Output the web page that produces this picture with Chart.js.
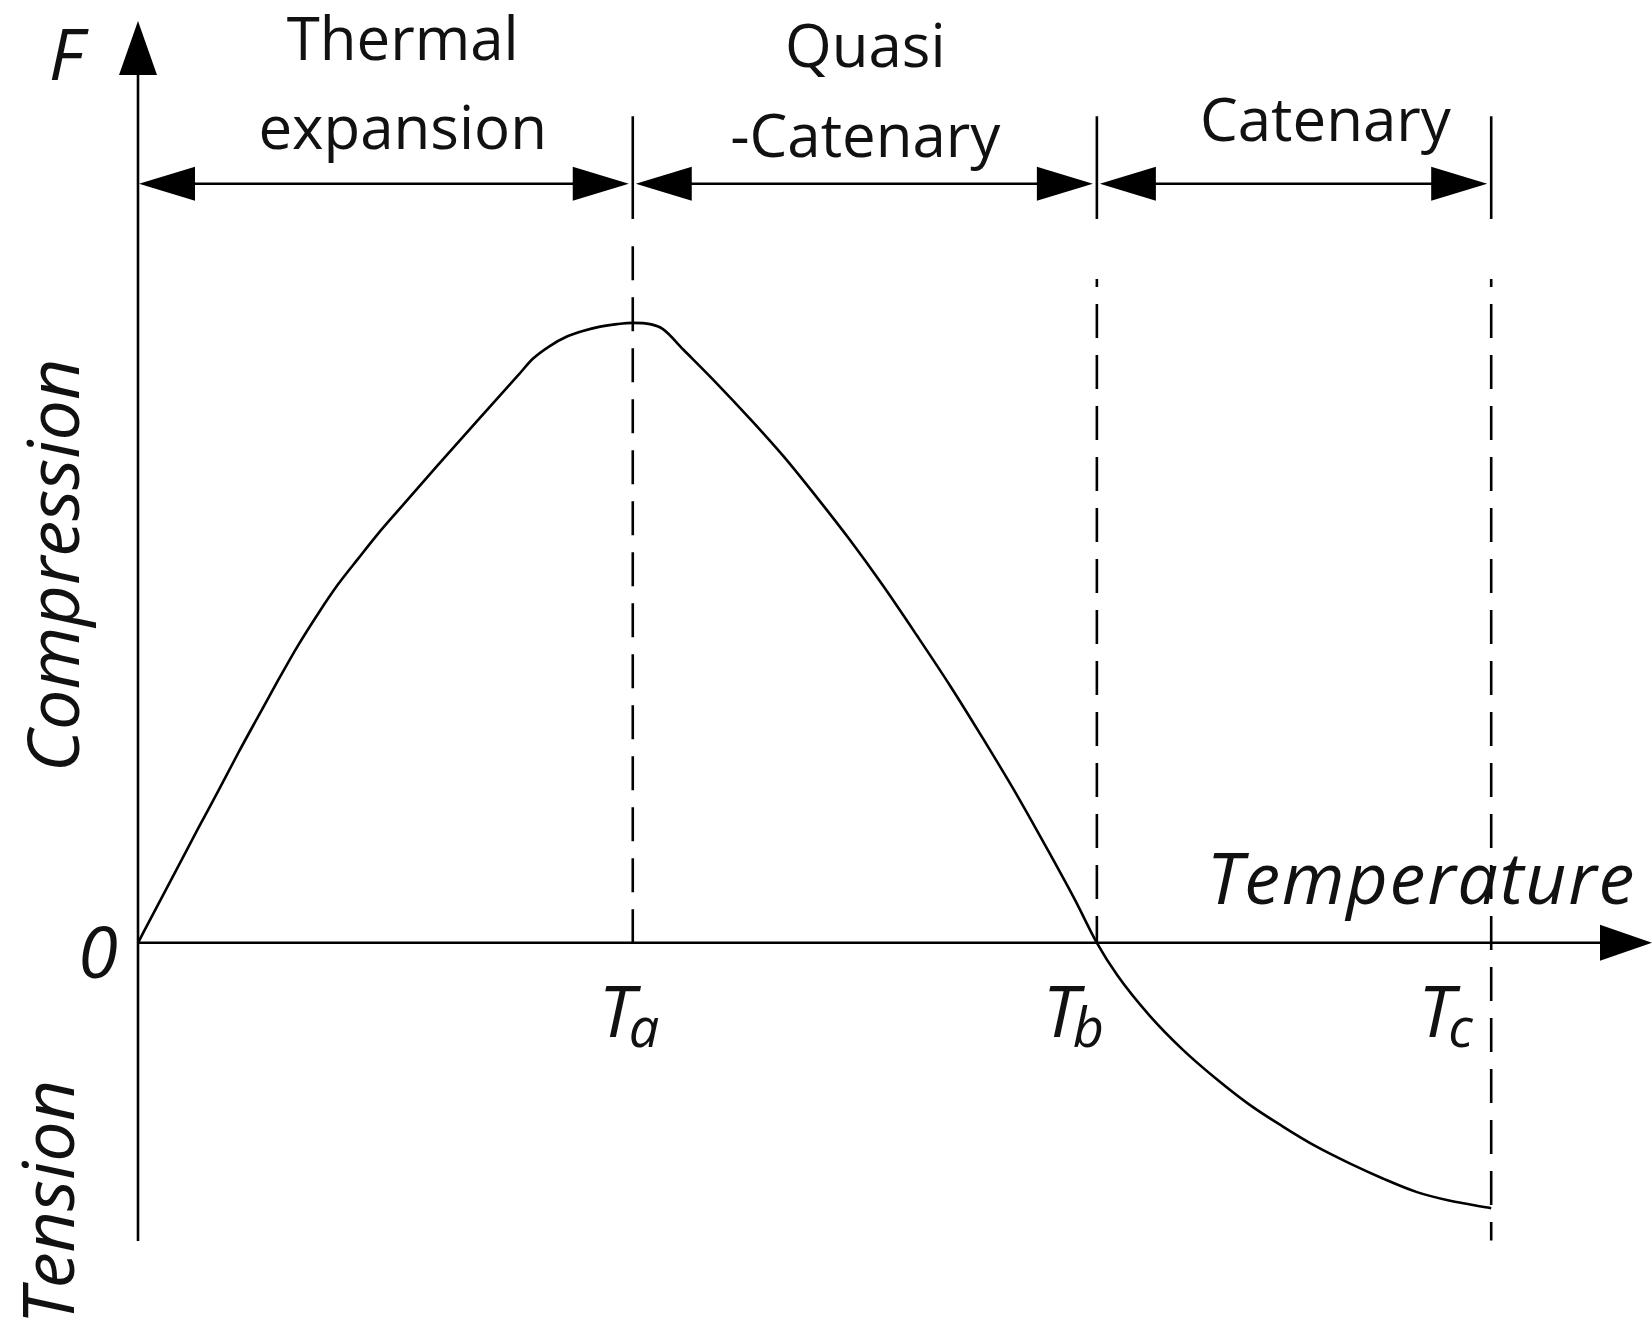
<!DOCTYPE html>
<html>
<head>
<meta charset="utf-8">
<script src="https://cdn.jsdelivr.net/npm/chart.js@4/dist/chart.umd.min.js"></script>
<style>
  html, body { margin: 0; padding: 0; background: #fff; }
  #wrap { width: 1652px; height: 1329px; position: relative; }
</style>
</head>
<body>
<div id="wrap"><canvas id="c"></canvas></div>
<script>
// ---- data (temperature units: Ta = 100, force units: peak = 100) ----
const curveT = [0, 4.0, 8.1, 12.1, 16.2, 20.2, 24.3, 28.3, 32.3, 36.4, 40.4, 44.5, 48.5, 52.6, 60.6, 68.7, 76.8,
                79.8, 83.3, 86.7, 89.9, 93.4, 96.8, 100, 103.5, 106.1, 110.2,
                117.0, 123.7, 130.4, 137.2, 143.9, 150.6, 157.4, 164.1, 170.8, 177.7, 184.3, 189.4, 193.8,
                197.9, 204.5, 211.2, 218.1, 224.7, 231.4, 238.3, 245.0, 251.6, 258.5, 265.2, 272.8, 273.5];
const curveF = [0, 6.1, 12.3, 18.4, 24.5, 30.6, 36.6, 42.4, 48.0, 53.2, 57.9, 62.1, 66.1, 69.9, 77.2, 84.5, 91.7,
                94.4, 96.5, 98.0, 98.9, 99.6, 100.0, 100.2, 100.0, 99.2, 95.9,
                90.4, 84.7, 78.7, 72.0, 65.1, 57.7, 49.7, 41.6, 33.0, 23.8, 14.4, 6.9, 0,
                -5.2, -11.8, -17.3, -22.1, -26.2, -29.7, -33.0, -35.7, -38.1, -40.3, -41.7, -42.8, -42.9];
const phaseBounds = [0, 100, 193.8, 273.5];        // 0, Ta, Tb, Tc
const markerSubs = ['a', 'b', 'c'];
const phaseLabels = [['Thermal', 'expansion'], ['Quasi', '-Catenary'], ['Catenary']];
const dashTop = [112.6, 107.3, 107.3];
const dashBottom = [0, 0, -48.1];
const dashOffset = [0, 26, 26];
const xRange = [0, 306];
const yRange = [-48.2, 149];
const arrowRowF = 122.7;
const sepRange = [117.0, 133.6];

const curve = curveT.map((t, i) => ({ x: t, y: curveF[i] }));
const datasets = [{
  data: curve, showLine: true, borderColor: '#000', borderWidth: 2.6,
  pointRadius: 0, cubicInterpolationMode: 'monotone', fill: false
}];
for (let i = 1; i < phaseBounds.length; i++) {
  datasets.push({
    data: [{ x: phaseBounds[i], y: dashTop[i - 1] }, { x: phaseBounds[i], y: dashBottom[i - 1] }],
    showLine: true, borderColor: '#000', borderWidth: 2.6, borderDash: [34, 17],
    borderDashOffset: dashOffset[i - 1], pointRadius: 0, fill: false
  });
  datasets.push({
    data: [{ x: phaseBounds[i], y: sepRange[0] }, { x: phaseBounds[i], y: sepRange[1] }],
    showLine: true, borderColor: '#000', borderWidth: 2.6, pointRadius: 0, fill: false
  });
}

function arrowhead(ctx, tx, ty, dx, dy, L, W) {
  const nx = -dy, ny = dx;
  ctx.beginPath();
  ctx.moveTo(tx, ty);
  ctx.lineTo(tx - L * dx + W * nx, ty - L * dy + W * ny);
  ctx.lineTo(tx - L * dx - W * nx, ty - L * dy - W * ny);
  ctx.closePath();
  ctx.fill();
}
function seg(ctx, x1, y1, x2, y2) {
  ctx.beginPath(); ctx.moveTo(x1, y1); ctx.lineTo(x2, y2); ctx.stroke();
}

const decor = {
  id: 'decor',
  afterDatasetsDraw(chart) {
    const { ctx, scales: { x, y } } = chart;
    const X = v => x.getPixelForValue(v), Y = v => y.getPixelForValue(v);
    ctx.save();
    ctx.strokeStyle = '#000'; ctx.fillStyle = '#000'; ctx.lineWidth = 2.6;
    const x0 = X(0), y0 = Y(0);
    // x axis
    const xEnd = X(xRange[1]);
    seg(ctx, x0, y0, xEnd - 40, y0);
    arrowhead(ctx, xEnd, y0, 1, 0, 52, 18);
    // y axis
    const yTop = Y(yRange[1]);
    seg(ctx, x0, Y(yRange[0]), x0, yTop + 40);
    arrowhead(ctx, x0, yTop, 0, -1, 54, 19);
    // double arrows
    const ay = Y(arrowRowF);
    for (let i = 0; i < phaseBounds.length - 1; i++) {
      const l = X(phaseBounds[i]) + (i === 0 ? 1 : 3);
      const r = X(phaseBounds[i + 1]) - 4;
      seg(ctx, l + 30, ay, r - 30, ay);
      arrowhead(ctx, l, ay, -1, 0, 56, 17);
      arrowhead(ctx, r, ay, 1, 0, 56, 17);
    }
    // phase labels
    ctx.fillStyle = '#111';
    ctx.font = '60px "Open Sans"';
    ctx.textAlign = 'center'; ctx.textBaseline = 'alphabetic';
    const labelX = [53.5, 147, 240];
    const labelRows = [[142.7, 128.3], [141.6, 127.0], [129.6]];
    phaseLabels.forEach((lines, i) => {
      lines.forEach((s, j) => ctx.fillText(s, X(labelX[i]), Y(labelRows[i][j])));
    });
    // italic axis labels
    ctx.font = 'italic 72px "Open Sans"';
    ctx.textAlign = 'center';
    ctx.fillText('F', x0 - 72, Y(yRange[1]) + 59);
    ctx.fillText('0', x0 - 40, y0 + 35);
    ctx.save();
    ctx.textAlign = 'right';
    try { ctx.letterSpacing = '1.7px'; } catch (e) {}
    ctx.fillText('Temperature', xEnd - 16, y0 - 39);
    ctx.restore();
    // rotated labels
    const rot = (txt, cx, cy) => {
      ctx.save(); ctx.translate(cx, cy); ctx.rotate(-Math.PI / 2);
      ctx.textAlign = 'center'; ctx.fillText(txt, 0, 0); ctx.restore();
    };
    rot('Compression', x0 - 59, Y(61.0));
    rot('Tension', x0 - 64, Y(-41.9));
    // T markers
    const tOff = [-34, -54, -73];
    for (let i = 0; i < markerSubs.length; i++) {
      const px = X(phaseBounds[i + 1]) + tOff[i];
      ctx.font = 'italic 72px "Open Sans"';
      ctx.textAlign = 'left';
      ctx.fillText('T', px, y0 + 94);
      const w = ctx.measureText('T').width;
      ctx.font = 'italic 54px "Open Sans"';
      ctx.fillText(markerSubs[i], px + w - 6, y0 + 104);
    }
    ctx.restore();
  }
};

new Chart(document.getElementById('c'), {
  type: 'scatter',
  data: { datasets },
  options: {
    responsive: true, maintainAspectRatio: false, animation: false,
    layout: { padding: { left: 138, right: 0, top: 21, bottom: 88 } },
    plugins: { legend: { display: false }, tooltip: { enabled: false } },
    scales: {
      x: { type: 'linear', min: xRange[0], max: xRange[1], display: false },
      y: { type: 'linear', min: yRange[0], max: yRange[1], display: false }
    }
  },
  plugins: [decor]
});
</script>
</body>
</html>
